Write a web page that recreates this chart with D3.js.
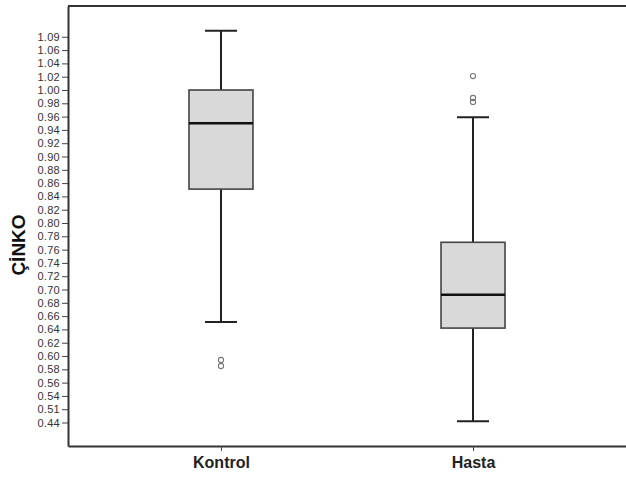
<!DOCTYPE html>
<html>
<head>
<meta charset="utf-8">
<script src="https://cdn.jsdelivr.net/npm/d3@7"></script>
<style>
  body { margin: 0; background: #fff; }
  svg { display: block; }
</style>
</head>
<body>
<div id="chart"></div>
<script>
var groups = ['Kontrol', 'Hasta']
var q1 = [0.851, 0.642]
var median = [0.950, 0.692]
var q3 = [1.000, 0.771]
var whiskerLow = [0.651, 0.502]
var whiskerHigh = [1.089, 0.959]
var outliers = [[0.594, 0.585], [1.021, 0.988, 0.982]]

var tickValues = [1.08, 1.06, 1.04, 1.02, 1.00, 0.98, 0.96, 0.94, 0.92, 0.90, 0.88, 0.86, 0.84, 0.82, 0.80,
  0.78, 0.76, 0.74, 0.72, 0.70, 0.68, 0.66, 0.64, 0.62, 0.60, 0.58, 0.56, 0.54, 0.52, 0.50]
var tickLabels = ['1.09', '1.06', '1.04', '1.02', '1.00', '0.98', '0.96', '0.94', '0.92', '0.90', '0.88', '0.86', '0.84', '0.82', '0.80',
  '0.78', '0.76', '0.74', '0.72', '0.70', '0.68', '0.66', '0.64', '0.62', '0.60', '0.58', '0.56', '0.54', '0.51', '0.44']

var w = 626
var h = 480
// plot area edges (note: "top" is reserved on window, so use other names)
var plotLeft = 68, plotRight = 626, plotTop = 6, plotBottom = 446

var svg = d3.select('#chart').append('svg')
  .attr('width', w)
  .attr('height', h)

var y = d3.scaleLinear().domain([0.4647, 1.1263]).range([plotBottom, plotTop])
var x = d3.scalePoint().domain(groups).range([plotLeft, plotRight]).padding(0.607)

// frame top line
svg.append('line')
  .attr('x1', plotLeft).attr('x2', plotRight)
  .attr('y1', plotTop).attr('y2', plotTop)
  .attr('stroke', '#333').attr('stroke-width', 2)

// y axis
var yAxis = svg.append('g')
  .attr('transform', 'translate(' + plotLeft + ',0)')
  .call(d3.axisLeft(y).tickValues(tickValues).tickSize(6).tickSizeOuter(0).tickPadding(2)
    .tickFormat(function (d, i) { return tickLabels[i] }))
yAxis.select('.domain').attr('stroke', '#333').attr('stroke-width', 2)
yAxis.selectAll('.tick line').attr('stroke', '#444')
yAxis.selectAll('text')
  .style('font-family', 'Liberation Sans, Arial, sans-serif')
  .style('font-size', '11px')
  .style('letter-spacing', '0.3px')
  .attr('fill', '#333')

// x axis
var xAxis = svg.append('g')
  .attr('transform', 'translate(0,' + plotBottom + ')')
  .call(d3.axisBottom(x).tickSize(5).tickPadding(6).tickSizeOuter(0))
xAxis.select('.domain').attr('stroke', '#333').attr('stroke-width', 2)
xAxis.selectAll('.tick line').attr('stroke', '#444')
xAxis.selectAll('text')
  .style('font-family', 'Liberation Sans, Arial, sans-serif')
  .style('font-size', '16px')
  .style('font-weight', 'bold')
  .attr('fill', '#222')

// y title
svg.append('text')
  .attr('transform', 'translate(25,245) rotate(-90)')
  .attr('text-anchor', 'middle')
  .style('font-family', 'Liberation Sans, Arial, sans-serif')
  .style('font-size', '19px')
  .style('font-weight', 'bold')
  .attr('fill', '#111')
  .text('ÇİNKO')

var boxW = 64
var capW = 32

groups.forEach(function (g, i) {
  var cx = x(g)
  var grp = svg.append('g')

  // whiskers
  grp.append('line')
    .attr('x1', cx).attr('x2', cx)
    .attr('y1', y(whiskerHigh[i])).attr('y2', y(q3[i]))
    .attr('stroke', '#222').attr('stroke-width', 2)
  grp.append('line')
    .attr('x1', cx).attr('x2', cx)
    .attr('y1', y(q1[i])).attr('y2', y(whiskerLow[i]))
    .attr('stroke', '#222').attr('stroke-width', 2)
  grp.append('line')
    .attr('x1', cx - capW / 2).attr('x2', cx + capW / 2)
    .attr('y1', y(whiskerHigh[i])).attr('y2', y(whiskerHigh[i]))
    .attr('stroke', '#222').attr('stroke-width', 2)
  grp.append('line')
    .attr('x1', cx - capW / 2).attr('x2', cx + capW / 2)
    .attr('y1', y(whiskerLow[i])).attr('y2', y(whiskerLow[i]))
    .attr('stroke', '#222').attr('stroke-width', 2)

  // box
  grp.append('rect')
    .attr('x', cx - boxW / 2)
    .attr('y', y(q3[i]))
    .attr('width', boxW)
    .attr('height', y(q1[i]) - y(q3[i]))
    .attr('fill', '#d9d9d9')
    .attr('stroke', '#444')
    .attr('stroke-width', 1.6)

  // median
  grp.append('line')
    .attr('x1', cx - boxW / 2).attr('x2', cx + boxW / 2)
    .attr('y1', y(median[i])).attr('y2', y(median[i]))
    .attr('stroke', '#111').attr('stroke-width', 2.5)

  // outliers
  outliers[i].forEach(function (v) {
    grp.append('circle')
      .attr('cx', cx)
      .attr('cy', y(v))
      .attr('r', 2.6)
      .attr('fill', 'none')
      .attr('stroke', '#777')
      .attr('stroke-width', 1.1)
  })
})
</script>
</body>
</html>
